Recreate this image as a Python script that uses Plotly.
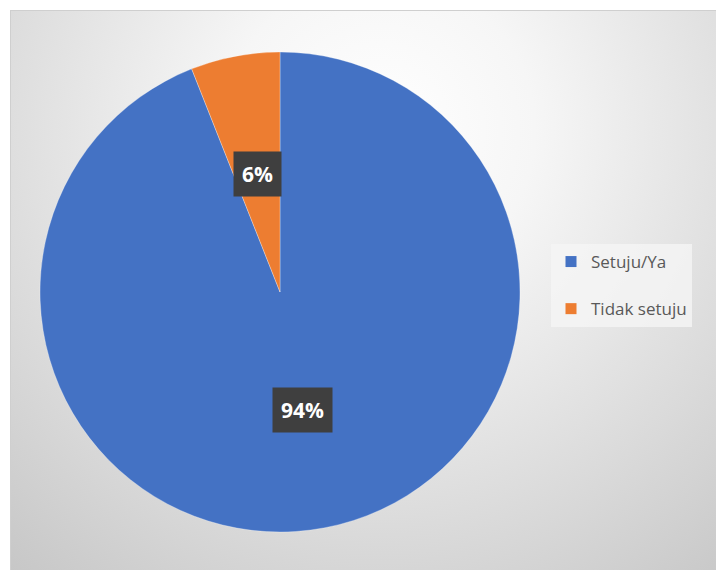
import base64, math
import plotly.graph_objects as go

labels = ["Setuju/Ya", "Tidak setuju"]
values = [94, 6]
colors = ["#4472C4", "#ED7D31"]

W, H = 716, 570

# background radial gradient as SVG image
svg = '''<svg xmlns="http://www.w3.org/2000/svg" width="706" height="560" viewBox="0 0 706 560">
<defs><radialGradient id="g" gradientUnits="userSpaceOnUse" cx="370" cy="120" r="620">
<stop offset="0" stop-color="#ffffff"/><stop offset="0.25" stop-color="#f6f6f6"/>
<stop offset="1" stop-color="#c2c2c2"/></radialGradient></defs>
<rect x="0" y="0" width="706" height="560" fill="url(#g)"/>
<rect x="0.5" y="0.5" width="720" height="570" fill="none" stroke="#cfcfcf" stroke-width="1"/>
</svg>'''
src = "data:image/svg+xml;base64," + base64.b64encode(svg.encode()).decode()

# pie geometry (pixels)
cx, cy, R = 280, 292, 240
dom_x = [(cx - R) / W, (cx + R) / W]
dom_y = [1 - (cy + R) / H, 1 - (cy - R) / H]

fig = go.Figure(go.Pie(
    labels=labels, values=values, sort=False, direction="clockwise", rotation=0,
    marker=dict(colors=colors, line=dict(color="rgba(255,255,255,0.6)", width=0.5)),
    textinfo="none", hoverinfo="label+percent", showlegend=False,
    domain=dict(x=dom_x, y=dom_y),
))

# legend entries (one group per slice, so spacing can be set)
for lab, col in zip(labels, colors):
    fig.add_trace(go.Scatter(
        x=[None], y=[None], mode="markers", name=lab, legendgroup=lab,
        marker=dict(symbol="square", size=11, color=col), hoverinfo="skip",
    ))

# percentage labels with dark boxes, positioned from data
total = sum(values)
start = 0.0
annotations = []
for v in values:
    frac = v / total
    mid = (start + frac / 2) * 2 * math.pi  # clockwise from top
    start += frac
    r = 0.5 * R
    px = cx + r * math.sin(mid)
    py = cy - r * math.cos(mid)
    annotations.append(dict(
        x=px / W, y=1 - py / H, xref="paper", yref="paper",
        xanchor="center", yanchor="middle",
        text=f"<b>{round(frac * 100)}%</b>", showarrow=False,
        font=dict(family="Open Sans, DejaVu Sans, sans-serif", size=21, color="white"),
        bgcolor="#3f3f3f", borderpad=8,
    ))

fig.update_layout(
    width=W, height=H,
    margin=dict(l=0, r=0, t=0, b=0),
    paper_bgcolor="rgba(0,0,0,0)", plot_bgcolor="rgba(0,0,0,0)",
    xaxis=dict(visible=False), yaxis=dict(visible=False),
    images=[dict(source=src, xref="paper", yref="paper", x=10 / W, y=1 - 10 / H,
                 sizex=706 / W, sizey=560 / H, sizing="stretch", layer="below",
                 xanchor="left", yanchor="top")],
    showlegend=True,
    legend=dict(x=551 / W, y=1 - 244 / H, xanchor="left", yanchor="top",
                bgcolor="rgba(245,245,245,0.8)",
                font=dict(family="Open Sans, Noto Sans, sans-serif", size=17, color="#595959"),
                tracegroupgap=22, itemwidth=30),
    annotations=annotations,
)

fig.write_html("out.html")
